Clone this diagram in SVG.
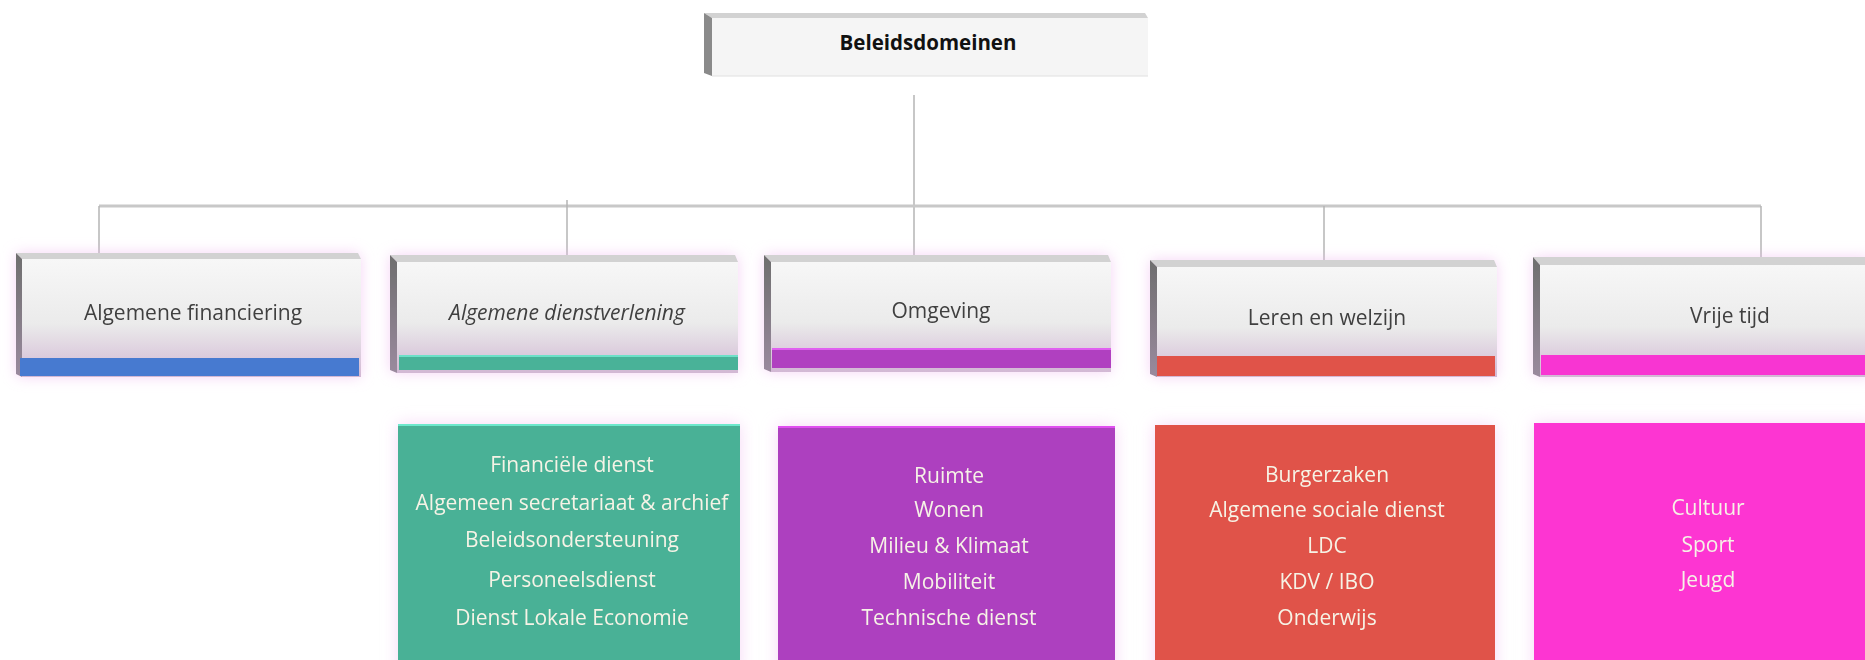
<svg xmlns="http://www.w3.org/2000/svg" width="1865" height="660" viewBox="0 0 1865 660">
<defs>
<linearGradient id="face" x1="0" y1="0" x2="0" y2="1">
<stop offset="0" stop-color="#f7f7f7"/>
<stop offset="0.55" stop-color="#ebebeb"/>
<stop offset="1" stop-color="#d2b8d4"/>
</linearGradient>
<linearGradient id="side" x1="0" y1="0" x2="0" y2="1">
<stop offset="0" stop-color="#6e6e6e"/>
<stop offset="1" stop-color="#9a8a9e"/>
</linearGradient>
<filter id="glow" x="-10%" y="-30%" width="120%" height="160%">
<feFlood flood-color="#f0b8f0" flood-opacity="0.6"/>
<feComposite in2="SourceAlpha" operator="in"/>
<feGaussianBlur stdDeviation="7"/>
<feMerge><feMergeNode/><feMergeNode in="SourceGraphic"/></feMerge>
</filter>
<filter id="glowL" x="-10%" y="-10%" width="120%" height="130%">
<feFlood flood-color="#f3c6f3" flood-opacity="0.7"/>
<feComposite in2="SourceAlpha" operator="in"/>
<feGaussianBlur stdDeviation="8"/>
<feMerge><feMergeNode/><feMergeNode in="SourceGraphic"/></feMerge>
</filter>
</defs>
<style>
.lbl{font-family:"Open Sans",Lato,"Liberation Sans",sans-serif;font-size:21px;fill:#3f3f3f;text-anchor:middle}
.ttl{font-family:"Open Sans",Lato,"Liberation Sans",sans-serif;font-size:20.5px;font-weight:bold;fill:#111;text-anchor:middle}
.itm{font-family:"Open Sans",Lato,"Liberation Sans",sans-serif;font-size:21px;fill:#f6f3e6;text-anchor:middle}
.strip{fill:#d2d2d2}
.side{fill:url(#side)}
.face{fill:url(#face)}
.conn{stroke:#b4b4b4;stroke-width:1.5;fill:none}
</style>
<rect width="1865" height="660" fill="#ffffff"/>

<g id="connectors">
<line class="conn" x1="914" y1="95" x2="914" y2="255"/>
<line x1="99" y1="206" x2="1761" y2="206" stroke="#c8c8c8" stroke-width="3"/>
<line class="conn" x1="99" y1="206" x2="99" y2="253"/>
<line class="conn" x1="567" y1="200" x2="567" y2="255"/>
<line class="conn" x1="1324" y1="206" x2="1324" y2="260"/>
<line class="conn" x1="1761" y1="206" x2="1761" y2="257"/>
</g>

<g id="node-beleidsdomeinen">
<polygon class="strip" points="704,13 1145,13 1148,18 712,18"/>
<polygon points="704,13 712,18 712,76 704,73" fill="#8a8a8a"/>
<rect x="712" y="18" width="436" height="58" fill="#f5f5f5"/>
<line x1="712" y1="76" x2="1148" y2="76" stroke="#e0e0e0"/>
<text class="ttl" x="928" y="50">Beleidsdomeinen</text>
</g>

<g id="node-algemene-financiering" filter="url(#glow)">
<polygon class="strip" points="16,253 358,253 361,259 22,259"/>
<polygon class="side" points="16,253 22,259 22,377 16,374"/>
<rect class="face" x="22" y="259" width="339" height="118"/>
<rect x="20" y="358" width="339" height="18" fill="#467ad0"/>
<text class="lbl" x="193" y="320">Algemene financiering</text>
</g>

<g id="node-algemene-dienstverlening" filter="url(#glow)">
<polygon class="strip" points="390,255 735,255 738,262 397,262"/>
<polygon class="side" points="390,255 397,262 397,373 390,370"/>
<rect class="face" x="397" y="262" width="341" height="111"/>
<rect x="399" y="355" width="339" height="15" fill="#4ab298"/>
<rect x="399" y="355" width="339" height="2" fill="#6ee0c8"/>
<text class="lbl" x="567" y="320" font-style="italic">Algemene dienstverlening</text>
</g>

<g id="node-omgeving" filter="url(#glow)">
<polygon class="strip" points="764,255 1108,255 1111,262 771,262"/>
<polygon class="side" points="764,255 771,262 771,372 764,369"/>
<rect class="face" x="771" y="262" width="340" height="110"/>
<rect x="772" y="348" width="339" height="20" fill="#b03fc0"/>
<rect x="772" y="348" width="339" height="2" fill="#e060f0"/>
<text class="lbl" x="941" y="318">Omgeving</text>
</g>

<g id="node-leren-en-welzijn" filter="url(#glow)">
<polygon class="strip" points="1150,260 1494,260 1497,267 1157,267"/>
<polygon class="side" points="1150,260 1157,267 1157,377 1150,374"/>
<rect class="face" x="1157" y="267" width="340" height="110"/>
<rect x="1157" y="356" width="338" height="20" fill="#e05248"/>
<text class="lbl" x="1327" y="325">Leren en welzijn</text>
</g>

<g id="node-vrije-tijd" filter="url(#glow)">
<polygon class="strip" points="1533,257 1870,257 1870,265 1540,265"/>
<polygon class="side" points="1533,257 1540,265 1540,377 1533,374"/>
<rect class="face" x="1540" y="265" width="330" height="112"/>
<rect x="1541" y="355" width="330" height="20" fill="#f835d2"/>
<text class="lbl" x="1730" y="323">Vrije tijd</text>
</g>

<g id="node-diensten-algemeen" filter="url(#glowL)">
<rect x="398" y="424" width="342" height="250" fill="#49b196"/>
<rect x="398" y="424" width="342" height="2" fill="#6ee8cc"/>
<text class="itm" x="572" y="472">Financiële dienst</text>
<text class="itm" x="572" y="510">Algemeen secretariaat &amp; archief</text>
<text class="itm" x="572" y="547">Beleidsondersteuning</text>
<text class="itm" x="572" y="587">Personeelsdienst</text>
<text class="itm" x="572" y="625">Dienst Lokale Economie</text>
</g>

<g id="node-diensten-omgeving" filter="url(#glowL)">
<rect x="778" y="426" width="337" height="250" fill="#ad3fbf"/>
<rect x="778" y="426" width="337" height="2" fill="#e050f0"/>
<text class="itm" x="949" y="483">Ruimte</text>
<text class="itm" x="949" y="517">Wonen</text>
<text class="itm" x="949" y="553">Milieu &amp; Klimaat</text>
<text class="itm" x="949" y="589">Mobiliteit</text>
<text class="itm" x="949" y="625">Technische dienst</text>
</g>

<g id="node-diensten-leren" filter="url(#glowL)">
<rect x="1155" y="425" width="340" height="250" fill="#e05248"/>
<text class="itm" x="1327" y="482">Burgerzaken</text>
<text class="itm" x="1327" y="517">Algemene sociale dienst</text>
<text class="itm" x="1327" y="553">LDC</text>
<text class="itm" x="1327" y="589">KDV / IBO</text>
<text class="itm" x="1327" y="625">Onderwijs</text>
</g>

<g id="node-diensten-vrije-tijd" filter="url(#glowL)">
<rect x="1534" y="423" width="340" height="250" fill="#fd36d2"/>
<text class="itm" x="1708" y="515">Cultuur</text>
<text class="itm" x="1708" y="552">Sport</text>
<text class="itm" x="1708" y="587">Jeugd</text>
</g>
</svg>
